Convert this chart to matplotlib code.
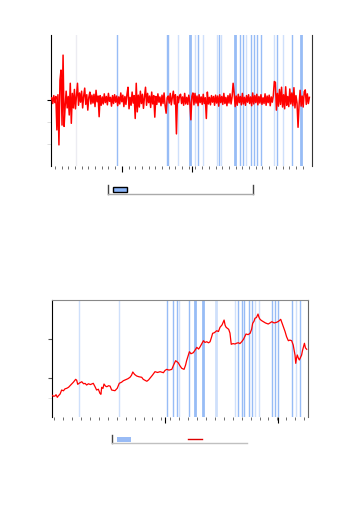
import numpy as np
import matplotlib
matplotlib.use("Agg")
import matplotlib.pyplot as plt
from matplotlib.lines import Line2D
from matplotlib.patches import Rectangle

# ── Data ──────────────────────────────────────────────────────────────────────
# daily returns (%), one value every 4 days, day 0 .. 1000
returns = [
    0.5, -0.8, 1.0, -0.6, 0.8, -6.8, 1.2, -10.2, 4.5, 6.8,
    -5.7, 10.2, -6.0, -1.5, 2.0, -1.8, 0.8, -3.4, 3.8, -5.3,
    1.5, -1.8, 2.4, -2.0, 1.0, 3.8, -1.2, 1.6, -0.5, 2.0,
    -1.8, 0.9, 2.7, -1.0, 1.2, -2.3, 0.6, 1.8, -0.9, 1.1,
    -0.7, 1.3, -1.5, 2.2, -0.4, 0.9, -3.8, 1.0, -1.2, 0.7,
    -0.9, 1.4, -0.6, 0.8, -1.1, 1.5, -0.3, 0.6, -1.4, 1.0,
    -0.8, 1.2, -0.5, 0.9, -1.3, 0.7, -0.9, 1.6, -0.4, 1.1,
    -1.5, 0.8, -1.0, 1.3, 2.9, -2.0, 0.6, -1.2, 1.8, -0.7,
    1.0, -4.2, 3.8, -2.7, 1.1, -1.6, 2.0, -0.8, 1.3, -1.9,
    0.7, 2.9, -1.2, 1.5, -0.6, 0.9, -1.7, 1.8, -0.9, 1.0,
    -3.9, 0.8, -1.0, 1.4, -0.5, 0.7, -1.3, 1.1, -0.8, 1.6,
    -1.2, -3.0, 0.5, 0.9, -0.7, 1.5, -1.1, 0.6, 2.0, -0.9,
    1.2, -7.7, 0.8, -0.6, 1.0, 1.3, -0.8, 0.7, -1.2, 1.5,
    -0.9, 0.6, -1.0, 1.1, -0.5, -4.5, 0.8, 1.6, -1.1, 1.5,
    -0.7, 0.9, -1.3, 1.2, -0.6, 0.7, -1.0, 1.3, -0.8, 0.5,
    -4.2, 1.8, -0.9, 0.6, -1.1, 1.0, -0.5, 0.8, -1.2, 1.1,
    -0.7, 0.9, -1.4, 1.2, -0.6, 0.8, -1.0, 1.5, -0.8, 0.6,
    -1.3, 1.0, -0.7, 1.4, -0.9, 0.7, 3.8, 1.6, -1.5, 0.9,
    -1.2, 1.3, -0.6, 0.8, -1.1, 1.5, -0.9, 0.6, -1.2, 1.0,
    -0.5, 1.2, -0.8, 0.7, -1.3, 1.6, -0.9, 1.0, -0.6, 1.3,
    -1.1, 0.8, -0.7, 1.2, -1.0, 0.5, -0.8, 1.4, -1.2, 0.9,
    -0.6, 1.1, -1.3, 0.7, -0.5, 1.0, 4.2, 4.0, -2.3, 1.5,
    -1.4, 2.4, -1.0, 2.9, -1.6, 1.2, -2.0, 3.0, -1.2, 0.8,
    -1.5, 2.5, -0.9, 1.6, -1.3, 2.8, -1.8, 1.0, -0.7, -6.2,
    -1.1, 2.2, -1.4, 0.9, -1.6, 1.9, 2.3, -1.0, 1.4, -0.8,
    0.6,
]
return_days = np.arange(len(returns)) * 4

price_days = [
    0, 7, 13, 17, 22, 26, 33, 39, 46, 52, 59, 66, 72, 78, 85, 94, 98, 102,
    109, 118, 125, 131, 137, 144, 152, 163, 170, 176, 183, 189, 193, 196,
    201, 205, 211, 216, 223, 229, 235, 242, 248, 257, 265, 274, 281, 289,
    299, 307, 313, 318, 325, 333, 342, 353, 359, 366, 373, 380, 385, 395,
    405, 415, 425, 438, 444, 451, 460, 471, 478, 486, 496, 503, 510, 519,
    525, 529, 534, 540, 546, 555, 562, 569, 576, 582, 588, 595, 601, 608,
    615, 621, 627, 631, 638, 647, 654, 660, 668, 676, 680, 684, 694, 699,
    704, 711, 719, 725, 732, 738, 745, 752, 762, 770, 778, 784, 788, 793,
    797, 803, 809, 813, 817, 823, 830, 838, 849, 856, 863, 872, 882, 889,
    898, 903, 908, 915, 921, 928, 934, 941, 947, 951, 954, 957, 960, 963,
    967, 971, 976, 980, 983, 987, 991, 995, 1000,
]
prices = [
    78.6, 77.0, 77.3, 79.0, 75.6, 77.5, 79.9, 85.0, 84.0, 86.5, 87.2, 88.5,
    90.5, 92.3, 95.0, 98.7, 97.5, 92.3, 94.0, 95.6, 93.0, 93.5, 91.4, 93.0,
    92.0, 93.6, 89.2, 85.0, 86.0, 80.8, 79.5, 88.5, 87.0, 92.7, 90.0, 89.2,
    90.5, 90.0, 85.0, 84.5, 84.1, 87.2, 93.6, 95.0, 96.9, 98.0, 99.5, 101.3,
    104.0, 108.1, 105.0, 103.0, 102.0, 101.3, 98.7, 97.5, 96.2, 98.0, 100.0,
    104.0, 108.5, 107.5, 108.5, 107.2, 110.0, 111.5, 110.5, 111.5, 117.0,
    122.6, 120.0, 116.0, 112.8, 111.5, 117.0, 122.6, 128.0, 134.1, 131.5,
    132.8, 136.0, 139.7, 137.5, 140.5, 144.0, 148.2, 146.0, 146.9, 145.5,
    146.9, 153.0, 157.7, 158.5, 161.0, 160.0, 165.4, 168.5, 174.7, 168.0,
    165.4, 162.8, 158.0, 143.6, 144.5, 144.0, 145.0, 145.6, 144.5, 146.9,
    150.0, 156.8, 156.0, 157.7, 163.0, 170.5, 173.0, 176.9, 178.0, 182.4,
    178.0, 175.6, 174.0, 172.6, 171.0, 169.6, 171.0, 172.6, 171.0, 171.8,
    173.0, 175.6, 171.0, 166.2, 160.0, 153.3, 148.2, 149.0, 148.2, 142.7,
    135.0, 129.9, 119.2, 126.0, 129.9, 126.0, 123.5, 127.0, 129.9, 135.0,
    139.7, 144.9, 139.0, 137.2,
]

# event days (-1 = faint, 0 = light, 1 = normal, 2 = wide, 3 = wide light)
events_top = [93, 255, 446, 453, 491, 537, 557, 569, 588, 640, 648, 656, 710,
              732, 744, 753, 775, 786, 798, 812, 864, 876, 899, 934, 968]
levels_top = [-1, 1, 1, 1, 0, 2, 0, 1, 0, 0, 1, 0, 2,
              1, 1, 0, 1, 1, 1, 1, 0, 1, 0, 1, 2]
events_bot = [106, 265, 453, 477, 490, 498, 540, 562, 595, 644, 718, 732,
              747, 753, 775, 787, 798, 812, 865, 876, 887, 941, 957, 974]
levels_bot = [0, 0, 1, 1, 1, 0, 1, 2, 2, 3, 0, 1,
              1, 1, 1, 1, 0, 0, 1, 1, 1, 1, 0, 1]

styles = {
    -1: ("#ececf2", 1.0),
    0: ("#cfe0fb", 1.0),
    1: ("#97bcf6", 1.0),
    2: ("#97bcf6", 2.0),
    3: ("#cfe0fb", 2.0),
}

W, H = 352, 512


def fx(px):
    return px / W


def fy(py):
    return 1 - py / H


fig = plt.figure(figsize=(W / 100, H / 100), dpi=100)

# ── Returns panel ─────────────────────────────────────────────────────────────
ax1 = fig.add_axes([fx(50.7), fy(165.7), 261 / W, 130.7 / H])
for d, lv in zip(events_top, levels_top):
    c, lw = styles[lv]
    ax1.axvline(d, color=c, lw=lw, zorder=1)
ax1.plot(return_days, returns, color="#ff0000", lw=1.1, zorder=3)
ax1.set_xlim(-4, 1009)
ax1.set_ylim(-14.93, 14.77)
ax1.spines["top"].set_visible(False)
ax1.spines["bottom"].set_visible(False)
ax1.spines["left"].set_color("black")
ax1.spines["right"].set_color("#333333")
ax1.set_yticks([0])
ax1.set_yticks([-5, -10], minor=True)
ax1.tick_params(axis="y", which="major", length=3, color="black", labelleft=False)
ax1.tick_params(axis="y", which="minor", length=3, color="#d8d8d8")
ax1.set_xticks([272, 543])
ax1.set_xticks(np.arange(12, 1000, 26), minor=True)
ax1.tick_params(axis="x", which="major", length=4, color="black", labelbottom=False)
ax1.tick_params(axis="x", which="minor", length=2, color="#555555")

# ── Price panel ───────────────────────────────────────────────────────────────
ax2 = fig.add_axes([fx(51.7), fy(417), 256.3 / W, 117 / H])
for d, lv in zip(events_bot, levels_bot):
    c, lw = styles[lv]
    ax2.axvline(d, color=c, lw=lw, zorder=1)
ax2.plot(price_days, prices, color="#ff0000", lw=0.9, zorder=3)
ax2.set_xlim(0, 1005)
ax2.set_ylim(50.4, 200.4)
ax2.spines["bottom"].set_visible(False)
ax2.spines["left"].set_color("black")
ax2.spines["right"].set_color("#666666")
ax2.spines["top"].set_color("#888888")
ax2.set_yticks([100, 150])
ax2.set_yticks([75], minor=True)
ax2.tick_params(axis="y", which="major", length=3, color="#555555", labelleft=False)
ax2.tick_params(axis="y", which="minor", length=3, color="#dddddd")
ax2.set_xticks([444, 889])
ax2.set_xticks(np.arange(10, 1000, 35), minor=True)
ax2.tick_params(axis="x", which="major", length=4, color="black", labelbottom=False)
ax2.tick_params(axis="x", which="minor", length=2, color="#555555")

# ── Legends (drawn as boxes, no text) ─────────────────────────────────────────
tf = fig.transFigure
fig.add_artist(Line2D([fx(108), fx(108)], [fy(185), fy(194)], color="#444444", lw=1, transform=tf))
fig.add_artist(Line2D([fx(253), fx(253)], [fy(185), fy(194)], color="#444444", lw=1, transform=tf))
fig.add_artist(Line2D([fx(108), fx(253)], [fy(194), fy(194)], color="#aaaaaa", lw=1, transform=tf))
fig.add_artist(Rectangle((fx(113), fy(192)), 14 / W, 5 / H, facecolor="#8ab4f8",
                         edgecolor="black", lw=1, transform=tf))

fig.add_artist(Line2D([fx(112), fx(112)], [fy(435), fy(443)], color="#444444", lw=1, transform=tf))
fig.add_artist(Line2D([fx(112), fx(247)], [fy(443), fy(443)], color="#c0c0c0", lw=1, transform=tf))
fig.add_artist(Rectangle((fx(117), fy(442)), 14 / W, 5 / H, facecolor="#99bbf5",
                         edgecolor="none", transform=tf))
fig.add_artist(Line2D([fx(188), fx(202)], [fy(439), fy(439)], color="#dd0000", lw=1, transform=tf))

fig.savefig("out.png", dpi=100)
